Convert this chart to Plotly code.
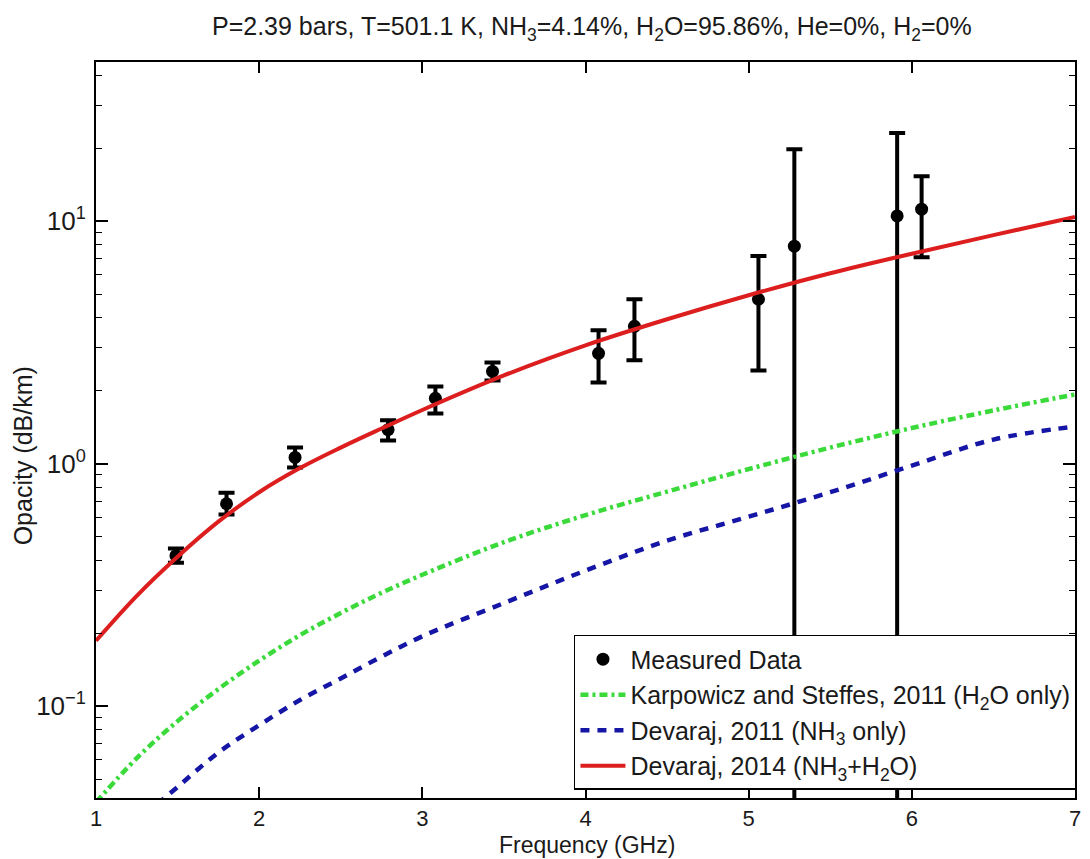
import plotly.graph_objects as go

# ---------------- data ----------------
meas_freq = [1.49, 1.80, 2.22, 2.79, 3.08, 3.43, 4.08, 4.30, 5.06, 5.28, 5.91, 6.06]
meas_val = [0.417, 0.683, 1.06, 1.38, 1.86, 2.40, 2.85, 3.68, 4.76, 7.88, 10.5, 11.2]
meas_hi = [0.446, 0.759, 1.165, 1.51, 2.08, 2.61, 3.55, 4.76, 7.17, 19.8, 23.1, 15.3]
meas_lo = [0.390, 0.616, 0.963, 1.245, 1.61, 2.20, 2.16, 2.67, 2.42, 0.0, 0.0, 7.10]

curve_freq = [1.0, 1.25, 1.5, 1.75, 2.0, 2.25, 2.5, 2.75, 3.0, 3.5, 4.0, 4.5, 5.0, 5.5, 6.0, 6.5, 7.0]
karpowicz_h2o = [0.0401, 0.0610, 0.0867, 0.1175, 0.154, 0.196, 0.242, 0.293, 0.348, 0.474, 0.613,
                 0.766, 0.949, 1.164, 1.402, 1.656, 1.928]
devaraj2011_nh3 = [0.0225, 0.0332, 0.0464, 0.0643, 0.0834, 0.1059, 0.130, 0.160, 0.194, 0.266, 0.362,
                   0.481, 0.604, 0.762, 0.981, 1.256, 1.422]
devaraj2014_mix = [0.186, 0.285, 0.413, 0.576, 0.762, 0.958, 1.164, 1.395, 1.664, 2.310, 3.073,
                   3.936, 4.946, 6.097, 7.338, 8.753, 10.39]

x_ticks = [1, 2, 3, 4, 5, 6, 7]
y_tickvals = [0.1, 1, 10]
y_ticktext = ["10<sup>\u22121</sup>", "10<sup>0</sup>", "10<sup>1</sup>"]
y_minor = [0.05, 0.06, 0.07, 0.08, 0.09, 0.2, 0.3, 0.4, 0.5, 0.6, 0.7, 0.8, 0.9,
           2, 3, 4, 5, 6, 7, 8, 9, 20, 30, 40]

title_text = ("P=2.39 bars, T=501.1 K, NH<sub>3</sub>=4.14%, H<sub>2</sub>O=95.86%, "
              "He=0%, H<sub>2</sub>=0%")
x_title = "Frequency (GHz)"
y_title = "Opacity (dB/km)"

ARIAL = "Liberation Sans, Arial, sans-serif"
TXT = "#1a1a1a"

err_plus = [h - v for h, v in zip(meas_hi, meas_val)]
err_minus = [v - l for v, l in zip(meas_val, meas_lo)]

fig = go.Figure()

fig.add_trace(go.Scatter(
    x=meas_freq, y=meas_val, mode="markers", name="Measured Data",
    marker=dict(color="black", size=13, symbol="circle"),
    error_y=dict(type="data", symmetric=False, array=err_plus, arrayminus=err_minus,
                 color="black", thickness=4, width=8),
))
fig.add_trace(go.Scatter(
    x=curve_freq, y=karpowicz_h2o, mode="lines",
    name="Karpowicz and Steffes, 2011 (H<sub>2</sub>O only)",
    line=dict(color="#3ada3a", width=4.5, dash="8px,4px,3px,4px", shape="spline"),
))
fig.add_trace(go.Scatter(
    x=curve_freq, y=devaraj2011_nh3, mode="lines",
    name="Devaraj, 2011 (NH<sub>3</sub> only)",
    line=dict(color="#1616a6", width=4.5, dash="9px,8px", shape="spline"),
))
fig.add_trace(go.Scatter(
    x=curve_freq, y=devaraj2014_mix, mode="lines",
    name="Devaraj, 2014 (NH<sub>3</sub>+H<sub>2</sub>O)",
    line=dict(color="#dc1e1e", width=4, shape="spline"),
))

fig.add_annotation(
    text=y_title, textangle=-90, xref="paper", yref="paper",
    x=-0.075, y=0.465, xanchor="center", yanchor="middle", showarrow=False,
    font=dict(family=ARIAL, size=25, color=TXT),
)
fig.add_annotation(
    text=x_title, xref="paper", yref="paper",
    x=0.502, y=-0.0835, xanchor="center", yanchor="bottom", showarrow=False,
    font=dict(family=ARIAL, size=23, color=TXT), borderpad=0,
)

fig.update_layout(
    width=1090, height=859,
    margin=dict(l=96, r=9, t=62, b=61),
    paper_bgcolor="white", plot_bgcolor="white",
    title=dict(text=title_text, x=0.543, xanchor="center", y=0.969, yanchor="middle",
               font=dict(family=ARIAL, size=25, color=TXT)),
    showlegend=True,
    legend=dict(x=1.002, xanchor="right", y=0.011, yanchor="bottom",
                bgcolor="white", bordercolor="black", borderwidth=1.5,
                font=dict(family=ARIAL, size=25, color=TXT),
                tracegroupgap=0, itemwidth=45),
    xaxis=dict(
        range=[1, 7], tickvals=x_ticks, ticks="inside", ticklen=11, tickwidth=1.5,
        tickcolor="black", showline=True, linecolor="black", linewidth=2,
        mirror="ticks", showgrid=False, zeroline=False,
        tickfont=dict(family=ARIAL, size=22, color=TXT),
    ),
    yaxis=dict(
        type="log", range=[-1.379, 1.656], tickmode="array",
        tickvals=y_tickvals, ticktext=y_ticktext,
        ticks="inside", ticklen=12, tickwidth=1.5, tickcolor="black",
        showline=True, linecolor="black", linewidth=2, mirror="ticks",
        showgrid=False, zeroline=False, ticklabelstandoff=3,
        minor=dict(tickmode="array", tickvals=y_minor, ticks="inside", ticklen=6,
                   tickwidth=1.2, tickcolor="black", showgrid=False),
        tickfont=dict(family=ARIAL, size=26, color=TXT),
    ),
)

fig.write_html("out.html")
